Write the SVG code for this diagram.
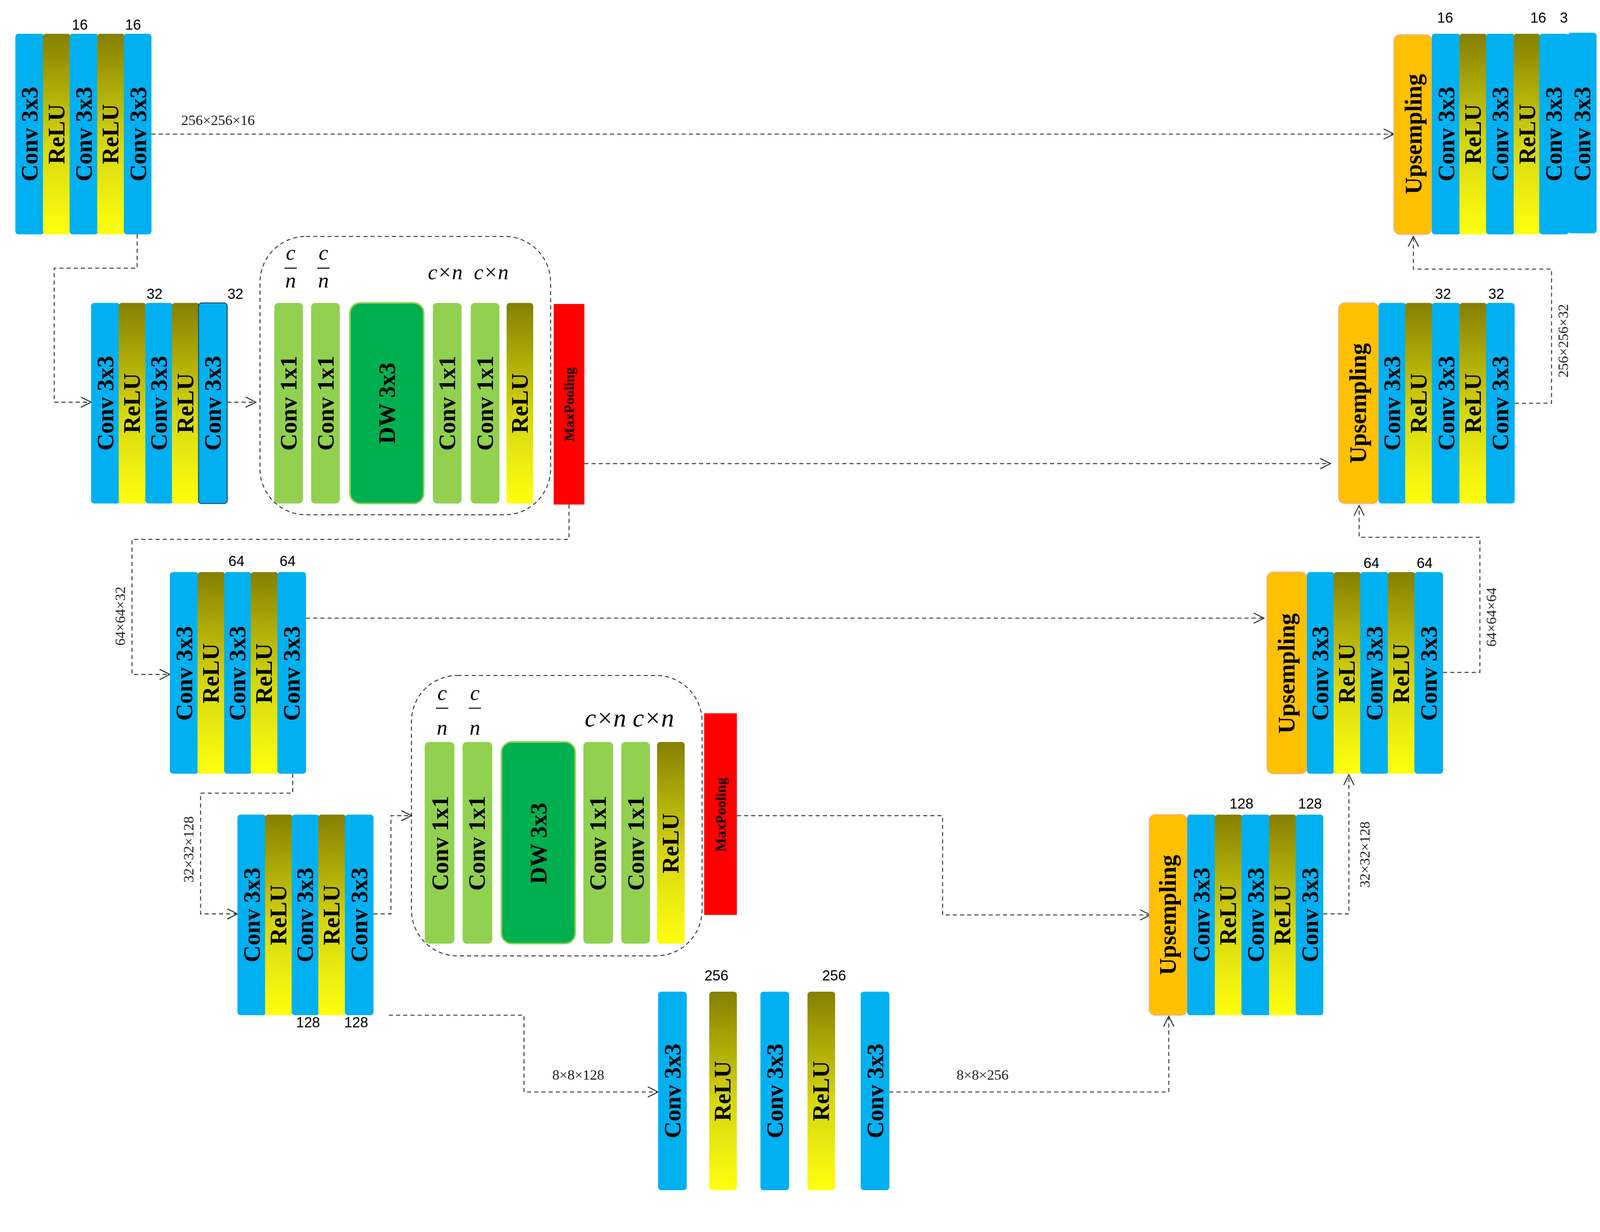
<svg xmlns="http://www.w3.org/2000/svg" width="4205" height="3154" viewBox="0 0 4205 3154">
<defs>
<linearGradient id="relu" x1="0" y1="0" x2="0" y2="1"><stop offset="0" stop-color="#857f00"/><stop offset="0.55" stop-color="#d6d610"/><stop offset="1" stop-color="#ffff10"/></linearGradient>
<marker id="ah" viewBox="0 0 12 12" refX="11" refY="6" markerWidth="12" markerHeight="12" markerUnits="userSpaceOnUse" orient="auto"><path d="M1,1 L11,6 L1,11" fill="none" stroke="#333" stroke-width="1"/></marker>
<style>
.c{fill:#00b0f0}
.r{fill:url(#relu)}
.g{fill:#92d050}
.dw{fill:#00b050;stroke:#92d050;stroke-width:1.5}
.up{fill:#ffc000;stroke:#f4b183;stroke-width:1}
.mp{fill:#ff0000}
.t{font-family:"Liberation Serif",serif;font-weight:bold;font-size:23px;fill:#000}
.tm{font-family:"Liberation Serif",serif;font-weight:bold;font-size:14px;fill:#000}
.n{font-family:"Liberation Sans",sans-serif;font-size:14px;fill:#000}
.d{font-family:"Liberation Serif",serif;font-size:14px;fill:#222}
.i{font-family:"Liberation Serif",serif;font-style:italic;font-size:21px;fill:#000}
.ln{fill:none;stroke:#444;stroke-width:1;stroke-dasharray:4,3}
.box{fill:none;stroke:#444;stroke-width:1;stroke-dasharray:4,3}
</style>
</defs>
<rect width="4205" height="3154" fill="#fff"/>
<g transform="scale(2.62)">
<g id="connectors">
<path class="ln" d="M148,131 H1362" marker-end="url(#ah)"/>
<text class="d" x="213" y="122" text-anchor="middle">256×256×16</text>
<path class="ln" d="M134,229 V262 H53 V393 H89" marker-end="url(#ah)"/>
<path class="ln" d="M222,393 H250" marker-end="url(#ah)"/>
<path class="ln" d="M571,453 H1300" marker-end="url(#ah)"/>
<path class="ln" d="M556,493 V527 H129 V659 H166" marker-end="url(#ah)"/>
<text class="d" transform="translate(122,602) rotate(-90)" text-anchor="middle">64×64×32</text>
<path class="ln" d="M299,604 H1235" marker-end="url(#ah)"/>
<path class="ln" d="M286,756 V775 H196 V893 H232" marker-end="url(#ah)"/>
<text class="d" transform="translate(189,830) rotate(-90)" text-anchor="middle">32×32×128</text>
<path class="ln" d="M365,893 H382 V797 H402" marker-end="url(#ah)"/>
<path class="ln" d="M720,797 H921 V894 H1124" marker-end="url(#ah)"/>
<path class="ln" d="M380,992 H512 V1067 H643" marker-end="url(#ah)"/>
<text class="d" x="565" y="1055" text-anchor="middle">8×8×128</text>
<path class="ln" d="M869,1067 H1142 V993" marker-end="url(#ah)"/>
<text class="d" x="960" y="1055" text-anchor="middle">8×8×256</text>
<path class="ln" d="M1293,893 H1318 V757" marker-end="url(#ah)"/>
<text class="d" transform="translate(1338,835) rotate(-90)" text-anchor="middle">32×32×128</text>
<path class="ln" d="M1410,657 H1446 V525 H1328 V494" marker-end="url(#ah)"/>
<text class="d" transform="translate(1462,603) rotate(-90)" text-anchor="middle">64×64×64</text>
<path class="ln" d="M1480,394 H1516 V263 H1381 V231" marker-end="url(#ah)"/>
<text class="d" transform="translate(1532,333) rotate(-90)" text-anchor="middle">256×256×32</text>
</g>

<g id="enc1">
<rect class="c" x="15" y="33" width="28" height="196" rx="3"/>
<rect class="r" x="42" y="33" width="27" height="196" rx="3"/>
<rect class="c" x="68" y="33" width="28" height="196" rx="3"/>
<rect class="r" x="95" y="33" width="27" height="196" rx="3"/>
<rect class="c" x="121" y="33" width="27" height="196" rx="3"/>
<text class="t" transform="translate(29,131) rotate(-90)" text-anchor="middle" dominant-baseline="central">Conv 3x3</text>
<text class="t" transform="translate(55,131) rotate(-90)" text-anchor="middle" dominant-baseline="central">ReLU</text>
<text class="t" transform="translate(82,131) rotate(-90)" text-anchor="middle" dominant-baseline="central">Conv 3x3</text>
<text class="t" transform="translate(108,131) rotate(-90)" text-anchor="middle" dominant-baseline="central">ReLU</text>
<text class="t" transform="translate(135,131) rotate(-90)" text-anchor="middle" dominant-baseline="central">Conv 3x3</text>
<text class="n" x="78" y="29" text-anchor="middle">16</text>
<text class="n" x="130" y="29" text-anchor="middle">16</text>
</g>

<g id="enc2">
<rect class="c" x="89" y="296" width="28" height="196" rx="3"/>
<rect class="r" x="116" y="296" width="27" height="196" rx="3"/>
<rect class="c" x="142" y="296" width="27" height="196" rx="3"/>
<rect class="r" x="168" y="296" width="27" height="196" rx="3"/>
<rect class="c" x="194" y="296" width="28" height="196" rx="3" stroke="#1f4e79" stroke-width="1"/>
<text class="t" transform="translate(103,394) rotate(-90)" text-anchor="middle" dominant-baseline="central">Conv 3x3</text>
<text class="t" transform="translate(129,394) rotate(-90)" text-anchor="middle" dominant-baseline="central">ReLU</text>
<text class="t" transform="translate(155,394) rotate(-90)" text-anchor="middle" dominant-baseline="central">Conv 3x3</text>
<text class="t" transform="translate(181,394) rotate(-90)" text-anchor="middle" dominant-baseline="central">ReLU</text>
<text class="t" transform="translate(208,394) rotate(-90)" text-anchor="middle" dominant-baseline="central">Conv 3x3</text>
<text class="n" x="151" y="292" text-anchor="middle">32</text>
<text class="n" x="230" y="292" text-anchor="middle">32</text>
</g>

<g id="block1">
<rect class="box" x="254" y="231" width="284" height="272" rx="45"/>
<rect class="g" x="268" y="296" width="28" height="196" rx="4"/>
<rect class="g" x="304" y="296" width="28" height="196" rx="4"/>
<rect class="dw" x="342" y="296" width="72" height="196" rx="10"/>
<rect class="g" x="423" y="296" width="28" height="196" rx="4"/>
<rect class="g" x="460" y="296" width="28" height="196" rx="4"/>
<rect class="r" x="495" y="296" width="26" height="196" rx="3"/>
<text class="t" transform="translate(282,394) rotate(-90)" text-anchor="middle" dominant-baseline="central">Conv 1x1</text>
<text class="t" transform="translate(318,394) rotate(-90)" text-anchor="middle" dominant-baseline="central">Conv 1x1</text>
<text class="t" transform="translate(378,394) rotate(-90)" text-anchor="middle" dominant-baseline="central">DW 3x3</text>
<text class="t" transform="translate(437,394) rotate(-90)" text-anchor="middle" dominant-baseline="central">Conv 1x1</text>
<text class="t" transform="translate(474,394) rotate(-90)" text-anchor="middle" dominant-baseline="central">Conv 1x1</text>
<text class="t" transform="translate(508,394) rotate(-90)" text-anchor="middle" dominant-baseline="central">ReLU</text>
<text class="i" x="284" y="254" text-anchor="middle">c</text>
<line x1="278" y1="262" x2="290" y2="262" stroke="#000" stroke-width="1"/>
<text class="i" x="284" y="281" text-anchor="middle">n</text>
<text class="i" x="316" y="254" text-anchor="middle">c</text>
<line x1="310" y1="262" x2="322" y2="262" stroke="#000" stroke-width="1"/>
<text class="i" x="316" y="281" text-anchor="middle">n</text>
<text class="i" x="435" y="273" text-anchor="middle">c×n</text>
<text class="i" x="480" y="273" text-anchor="middle">c×n</text>
</g>
<g id="pool1">
<rect class="mp" x="541" y="297" width="30" height="196"/>
<text class="tm" transform="translate(556,395) rotate(-90)" text-anchor="middle" dominant-baseline="central">MaxPooling</text>
</g>

<g id="enc3">
<rect class="c" x="166" y="559" width="28" height="197" rx="3"/>
<rect class="r" x="193" y="559" width="27" height="197" rx="3"/>
<rect class="c" x="219" y="559" width="27" height="197" rx="3"/>
<rect class="r" x="245" y="559" width="27" height="197" rx="3"/>
<rect class="c" x="271" y="559" width="28" height="197" rx="3"/>
<text class="t" transform="translate(180,658) rotate(-90)" text-anchor="middle" dominant-baseline="central">Conv 3x3</text>
<text class="t" transform="translate(206,658) rotate(-90)" text-anchor="middle" dominant-baseline="central">ReLU</text>
<text class="t" transform="translate(232,658) rotate(-90)" text-anchor="middle" dominant-baseline="central">Conv 3x3</text>
<text class="t" transform="translate(258,658) rotate(-90)" text-anchor="middle" dominant-baseline="central">ReLU</text>
<text class="t" transform="translate(285,658) rotate(-90)" text-anchor="middle" dominant-baseline="central">Conv 3x3</text>
<text class="n" x="231" y="553" text-anchor="middle">64</text>
<text class="n" x="281" y="553" text-anchor="middle">64</text>
</g>

<g id="enc4">
<rect class="c" x="232" y="796" width="28" height="196" rx="3"/>
<rect class="r" x="259" y="796" width="27" height="196" rx="3"/>
<rect class="c" x="285" y="796" width="27" height="196" rx="3"/>
<rect class="r" x="311" y="796" width="27" height="196" rx="3"/>
<rect class="c" x="337" y="796" width="28" height="196" rx="3"/>
<text class="t" transform="translate(246,894) rotate(-90)" text-anchor="middle" dominant-baseline="central">Conv 3x3</text>
<text class="t" transform="translate(272,894) rotate(-90)" text-anchor="middle" dominant-baseline="central">ReLU</text>
<text class="t" transform="translate(298,894) rotate(-90)" text-anchor="middle" dominant-baseline="central">Conv 3x3</text>
<text class="t" transform="translate(324,894) rotate(-90)" text-anchor="middle" dominant-baseline="central">ReLU</text>
<text class="t" transform="translate(351,894) rotate(-90)" text-anchor="middle" dominant-baseline="central">Conv 3x3</text>
<text class="n" x="301" y="1004" text-anchor="middle">128</text>
<text class="n" x="348" y="1004" text-anchor="middle">128</text>
</g>

<g id="block2">
<rect class="box" x="402" y="660" width="284" height="274" rx="45"/>
<rect class="g" x="415" y="725" width="29" height="197" rx="4"/>
<rect class="g" x="452" y="725" width="29" height="197" rx="4"/>
<rect class="dw" x="490" y="725" width="72" height="197" rx="10"/>
<rect class="g" x="570" y="725" width="29" height="197" rx="4"/>
<rect class="g" x="607" y="725" width="28" height="197" rx="4"/>
<rect class="r" x="642" y="725" width="27" height="197" rx="3"/>
<text class="t" transform="translate(430,824) rotate(-90)" text-anchor="middle" dominant-baseline="central">Conv 1x1</text>
<text class="t" transform="translate(466,824) rotate(-90)" text-anchor="middle" dominant-baseline="central">Conv 1x1</text>
<text class="t" transform="translate(526,824) rotate(-90)" text-anchor="middle" dominant-baseline="central">DW 3x3</text>
<text class="t" transform="translate(584,824) rotate(-90)" text-anchor="middle" dominant-baseline="central">Conv 1x1</text>
<text class="t" transform="translate(621,824) rotate(-90)" text-anchor="middle" dominant-baseline="central">Conv 1x1</text>
<text class="t" transform="translate(655,824) rotate(-90)" text-anchor="middle" dominant-baseline="central">ReLU</text>
<text class="i" x="432" y="684" text-anchor="middle">c</text>
<line x1="426" y1="692" x2="438" y2="692" stroke="#000" stroke-width="1"/>
<text class="i" x="432" y="718" text-anchor="middle">n</text>
<text class="i" x="464" y="684" text-anchor="middle">c</text>
<line x1="458" y1="692" x2="470" y2="692" stroke="#000" stroke-width="1"/>
<text class="i" x="464" y="718" text-anchor="middle">n</text>
<text class="i" x="615" y="710" text-anchor="middle" style="font-size:25px">c×n c×n</text>
</g>
<g id="pool2">
<rect class="mp" x="688" y="697" width="32" height="197"/>
<text class="tm" transform="translate(704,796) rotate(-90)" text-anchor="middle" dominant-baseline="central">MaxPooling</text>
</g>

<g id="bottleneck">
<rect class="c" x="643" y="969" width="28" height="194" rx="3"/>
<rect class="r" x="693" y="969" width="27" height="194" rx="3"/>
<rect class="c" x="743" y="969" width="28" height="194" rx="3"/>
<rect class="r" x="789" y="969" width="27" height="194" rx="3"/>
<rect class="c" x="841" y="969" width="28" height="194" rx="3"/>
<text class="t" transform="translate(657,1066) rotate(-90)" text-anchor="middle" dominant-baseline="central">Conv 3x3</text>
<text class="t" transform="translate(706,1066) rotate(-90)" text-anchor="middle" dominant-baseline="central">ReLU</text>
<text class="t" transform="translate(757,1066) rotate(-90)" text-anchor="middle" dominant-baseline="central">Conv 3x3</text>
<text class="t" transform="translate(802,1066) rotate(-90)" text-anchor="middle" dominant-baseline="central">ReLU</text>
<text class="t" transform="translate(855,1066) rotate(-90)" text-anchor="middle" dominant-baseline="central">Conv 3x3</text>
<text class="n" x="700" y="958" text-anchor="middle">256</text>
<text class="n" x="815" y="958" text-anchor="middle">256</text>
</g>

<g id="dec4">
<rect class="up" x="1123" y="796" width="37" height="196" rx="6"/>
<rect class="c" x="1160" y="796" width="28" height="196" rx="3"/>
<rect class="r" x="1187" y="796" width="27" height="196" rx="3"/>
<rect class="c" x="1213" y="796" width="28" height="196" rx="3"/>
<rect class="r" x="1240" y="796" width="27" height="196" rx="3"/>
<rect class="c" x="1266" y="796" width="27" height="196" rx="3"/>
<text class="t" transform="translate(1141,894) rotate(-90)" text-anchor="middle" dominant-baseline="central">Upsempling</text>
<text class="t" transform="translate(1174,894) rotate(-90)" text-anchor="middle" dominant-baseline="central">Conv 3x3</text>
<text class="t" transform="translate(1200,894) rotate(-90)" text-anchor="middle" dominant-baseline="central">ReLU</text>
<text class="t" transform="translate(1227,894) rotate(-90)" text-anchor="middle" dominant-baseline="central">Conv 3x3</text>
<text class="t" transform="translate(1253,894) rotate(-90)" text-anchor="middle" dominant-baseline="central">ReLU</text>
<text class="t" transform="translate(1280,894) rotate(-90)" text-anchor="middle" dominant-baseline="central">Conv 3x3</text>
<text class="n" x="1213" y="790" text-anchor="middle">128</text>
<text class="n" x="1280" y="790" text-anchor="middle">128</text>
</g>

<g id="dec3">
<rect class="up" x="1238" y="559" width="39" height="197" rx="6"/>
<rect class="c" x="1277" y="559" width="27" height="197" rx="3"/>
<rect class="r" x="1303" y="559" width="27" height="197" rx="3"/>
<rect class="c" x="1329" y="559" width="28" height="197" rx="3"/>
<rect class="r" x="1356" y="559" width="27" height="197" rx="3"/>
<rect class="c" x="1382" y="559" width="28" height="197" rx="3"/>
<text class="t" transform="translate(1257,658) rotate(-90)" text-anchor="middle" dominant-baseline="central">Upsempling</text>
<text class="t" transform="translate(1290,658) rotate(-90)" text-anchor="middle" dominant-baseline="central">Conv 3x3</text>
<text class="t" transform="translate(1316,658) rotate(-90)" text-anchor="middle" dominant-baseline="central">ReLU</text>
<text class="t" transform="translate(1343,658) rotate(-90)" text-anchor="middle" dominant-baseline="central">Conv 3x3</text>
<text class="t" transform="translate(1369,658) rotate(-90)" text-anchor="middle" dominant-baseline="central">ReLU</text>
<text class="t" transform="translate(1396,658) rotate(-90)" text-anchor="middle" dominant-baseline="central">Conv 3x3</text>
<text class="n" x="1340" y="555" text-anchor="middle">64</text>
<text class="n" x="1392" y="555" text-anchor="middle">64</text>
</g>

<g id="dec2">
<rect class="up" x="1308" y="296" width="39" height="196" rx="6"/>
<rect class="c" x="1347" y="296" width="27" height="196" rx="3"/>
<rect class="r" x="1373" y="296" width="27" height="196" rx="3"/>
<rect class="c" x="1399" y="296" width="28" height="196" rx="3"/>
<rect class="r" x="1426" y="296" width="27" height="196" rx="3"/>
<rect class="c" x="1452" y="296" width="28" height="196" rx="3"/>
<text class="t" transform="translate(1327,394) rotate(-90)" text-anchor="middle" dominant-baseline="central">Upsempling</text>
<text class="t" transform="translate(1360,394) rotate(-90)" text-anchor="middle" dominant-baseline="central">Conv 3x3</text>
<text class="t" transform="translate(1386,394) rotate(-90)" text-anchor="middle" dominant-baseline="central">ReLU</text>
<text class="t" transform="translate(1413,394) rotate(-90)" text-anchor="middle" dominant-baseline="central">Conv 3x3</text>
<text class="t" transform="translate(1439,394) rotate(-90)" text-anchor="middle" dominant-baseline="central">ReLU</text>
<text class="t" transform="translate(1466,394) rotate(-90)" text-anchor="middle" dominant-baseline="central">Conv 3x3</text>
<text class="n" x="1410" y="292" text-anchor="middle">32</text>
<text class="n" x="1462" y="292" text-anchor="middle">32</text>
</g>

<g id="dec1">
<rect class="up" x="1362" y="34" width="37" height="195" rx="6"/>
<rect class="c" x="1399" y="33" width="28" height="196" rx="3"/>
<rect class="r" x="1426" y="33" width="27" height="196" rx="3"/>
<rect class="c" x="1452" y="33" width="28" height="196" rx="3"/>
<rect class="r" x="1479" y="33" width="26" height="196" rx="3"/>
<rect class="c" x="1504" y="33" width="29" height="196" rx="3"/>
<rect class="c" x="1532" y="32" width="28" height="196" rx="3"/>
<text class="t" transform="translate(1381,131) rotate(-90)" text-anchor="middle" dominant-baseline="central">Upsempling</text>
<text class="t" transform="translate(1413,131) rotate(-90)" text-anchor="middle" dominant-baseline="central">Conv 3x3</text>
<text class="t" transform="translate(1439,131) rotate(-90)" text-anchor="middle" dominant-baseline="central">ReLU</text>
<text class="t" transform="translate(1466,131) rotate(-90)" text-anchor="middle" dominant-baseline="central">Conv 3x3</text>
<text class="t" transform="translate(1492,131) rotate(-90)" text-anchor="middle" dominant-baseline="central">ReLU</text>
<text class="t" transform="translate(1518,131) rotate(-90)" text-anchor="middle" dominant-baseline="central">Conv 3x3</text>
<text class="t" transform="translate(1546,131) rotate(-90)" text-anchor="middle" dominant-baseline="central">Conv 3x3</text>
<text class="n" x="1412" y="22" text-anchor="middle">16</text>
<text class="n" x="1503" y="22" text-anchor="middle">16</text>
<text class="n" x="1528" y="22" text-anchor="middle">3</text>
</g>
</g>
</svg>
